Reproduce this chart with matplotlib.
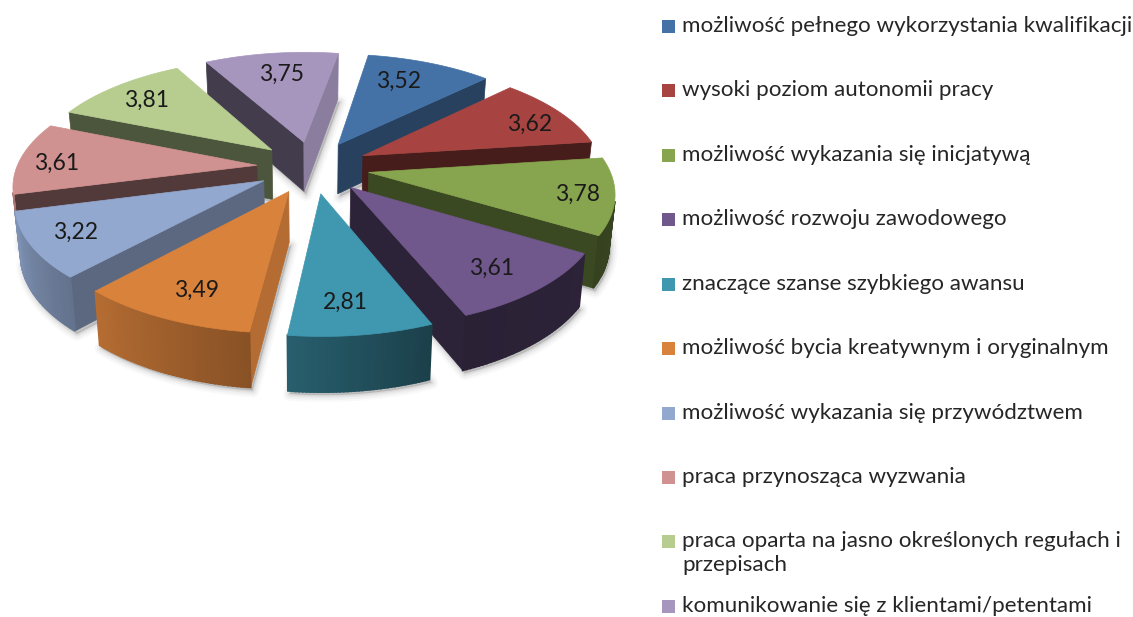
import numpy as np
import matplotlib
matplotlib.use('Agg')
import matplotlib.pyplot as plt
from matplotlib.patches import Polygon, Rectangle

plt.rcParams['font.family'] = ['Lato', 'DejaVu Sans']

categories = [
    'możliwość pełnego wykorzystania kwalifikacji',
    'wysoki poziom autonomii pracy',
    'możliwość wykazania się inicjatywą',
    'możliwość rozwoju zawodowego',
    'znaczące szanse szybkiego awansu',
    'możliwość bycia kreatywnym i oryginalnym',
    'możliwość wykazania się przywództwem',
    'praca przynosząca wyzwania',
    'praca oparta na jasno określonych regułach i\nprzepisach',
    'komunikowanie się z klientami/petentami',
]
values = [3.52, 3.62, 3.78, 3.61, 2.81, 3.49, 3.22, 3.61, 3.81, 3.75]
colors = ['#4472a7', '#a74441', '#87a54e', '#70578c', '#4098b0',
          '#d9823c', '#92a8cf', '#d09290', '#b6cd8f', '#a696be']

# shade of the faces: start cut, end cut, wall at start, wall at end
shades = [(.5, .57, .5, .5), (.4, .42, .4, .4), (.44, .44, .44, .40),
          (.4, .40, .40, .38), (.6, .6, .42, .62), (.83, .6, .63, .83),
          (.62, .6, .68, .87), (.40, .6, .8, .85), (.42, .6, .6, .6),
          (.40, .83, .6, .6)]
legend_y = [26, 90, 155, 219, 284, 348, 413, 477, 541, 606]
# small nudges of the value labels, in pixels
label_dx = [-15, 8, 13, -5, -7, 5, -5, -11, 1, 4]
label_dy = [3, 4, 3, 2, 0, 1, 1, 4, 2, 5]

# projection of the tilted pie
cx, cy = 313, 167
A, B, p = 240, 111, 0.156
explode = 0.235
depth = 50
start_angle = 9.5


def project(x, y, z=0.0):
    w = 1 / (1 + p * y)
    k = 1 - 0.02 * z
    return cx + x * A * w * k, cy - y * B * w + z * depth * np.sqrt(w)


def shade(color, f):
    return tuple(c * f for c in matplotlib.colors.to_rgb(color))


def area(pts):
    pts = np.array(pts)
    xs, ys = pts[:, 0], pts[:, 1]
    return np.sum(xs * np.roll(ys, -1) - np.roll(xs, -1) * ys)


fig = plt.figure(figsize=(11.33, 6.17), dpi=100)
ax = fig.add_axes([0, 0, 1, 1])
ax.set_xlim(0, 1133)
ax.set_ylim(617, 0)
ax.axis('off')

edges = start_angle + np.concatenate([[0], np.cumsum(values)]) / sum(values) * 360
mids = (edges[:-1] + edges[1:]) / 2
order = np.argsort(-np.cos(np.radians(mids)))

for i in order:
    t1, t2 = np.radians(edges[i]), np.radians(edges[i + 1])
    mid = np.radians(mids[i])
    ox, oy = explode * np.sin(mid), explode * np.cos(mid)
    thetas = np.linspace(t1, t2, 40)
    rim = [(ox + np.sin(t), oy + np.cos(t)) for t in thetas]
    tip = (ox, oy)
    c = colors[i]
    s = shades[i]

    # soft shadow under the slice
    base = [project(*tip, 1)] + [project(*q, 1) for q in rim]
    for lw, a in [(10, .025), (7, .035), (4, .045), (2, .05)]:
        shadow = [(u + 2, v + 3) for u, v in base]
        ax.add_patch(Polygon(shadow, closed=True, facecolor=(0, 0, 0, a),
                             edgecolor=(0, 0, 0, a), lw=lw, joinstyle='round'))

    faces = []
    # radial cuts
    for a_pt, b_pt, f in [(tip, rim[0], s[0]), (rim[-1], tip, s[1])]:
        quad = [project(*a_pt), project(*b_pt), project(*b_pt, 1), project(*a_pt, 1)]
        faces.append((quad, f, 0.5))
    for j in range(len(rim) - 1):
        quad = [project(*rim[j]), project(*rim[j + 1]),
                project(*rim[j + 1], 1), project(*rim[j], 1)]
        f = s[2] + (s[3] - s[2]) * j / (len(rim) - 2)
        faces.append((quad, f, 1.3))
    for quad, f, lw in faces:
        if area(quad) < 0:
            col = shade(c, f)
            ax.add_patch(Polygon(quad, closed=True, facecolor=col, edgecolor=col, lw=lw))

    top = [project(*tip)] + [project(*q) for q in rim]
    ax.add_patch(Polygon(top, closed=True, facecolor=c, edgecolor=c, lw=0.5))

    # value label on the top face
    lx, ly = project(ox + 0.8 * np.sin(mid), oy + 0.8 * np.cos(mid))
    ax.text(lx + label_dx[i], ly + label_dy[i], f'{values[i]:.2f}'.replace('.', ','),
            fontsize=16.5, ha='center', va='center', color='#1a1a1a')

for name, col, y in zip(categories, colors, legend_y):
    ax.add_patch(Rectangle((662, y - 6), 13, 13, facecolor=col, edgecolor='none'))
    ax.text(682, y - 10, name, fontsize=16.1, ha='left', va='top', color='#262626',
            linespacing=1.22)

fig.savefig('out.png', dpi=100)
